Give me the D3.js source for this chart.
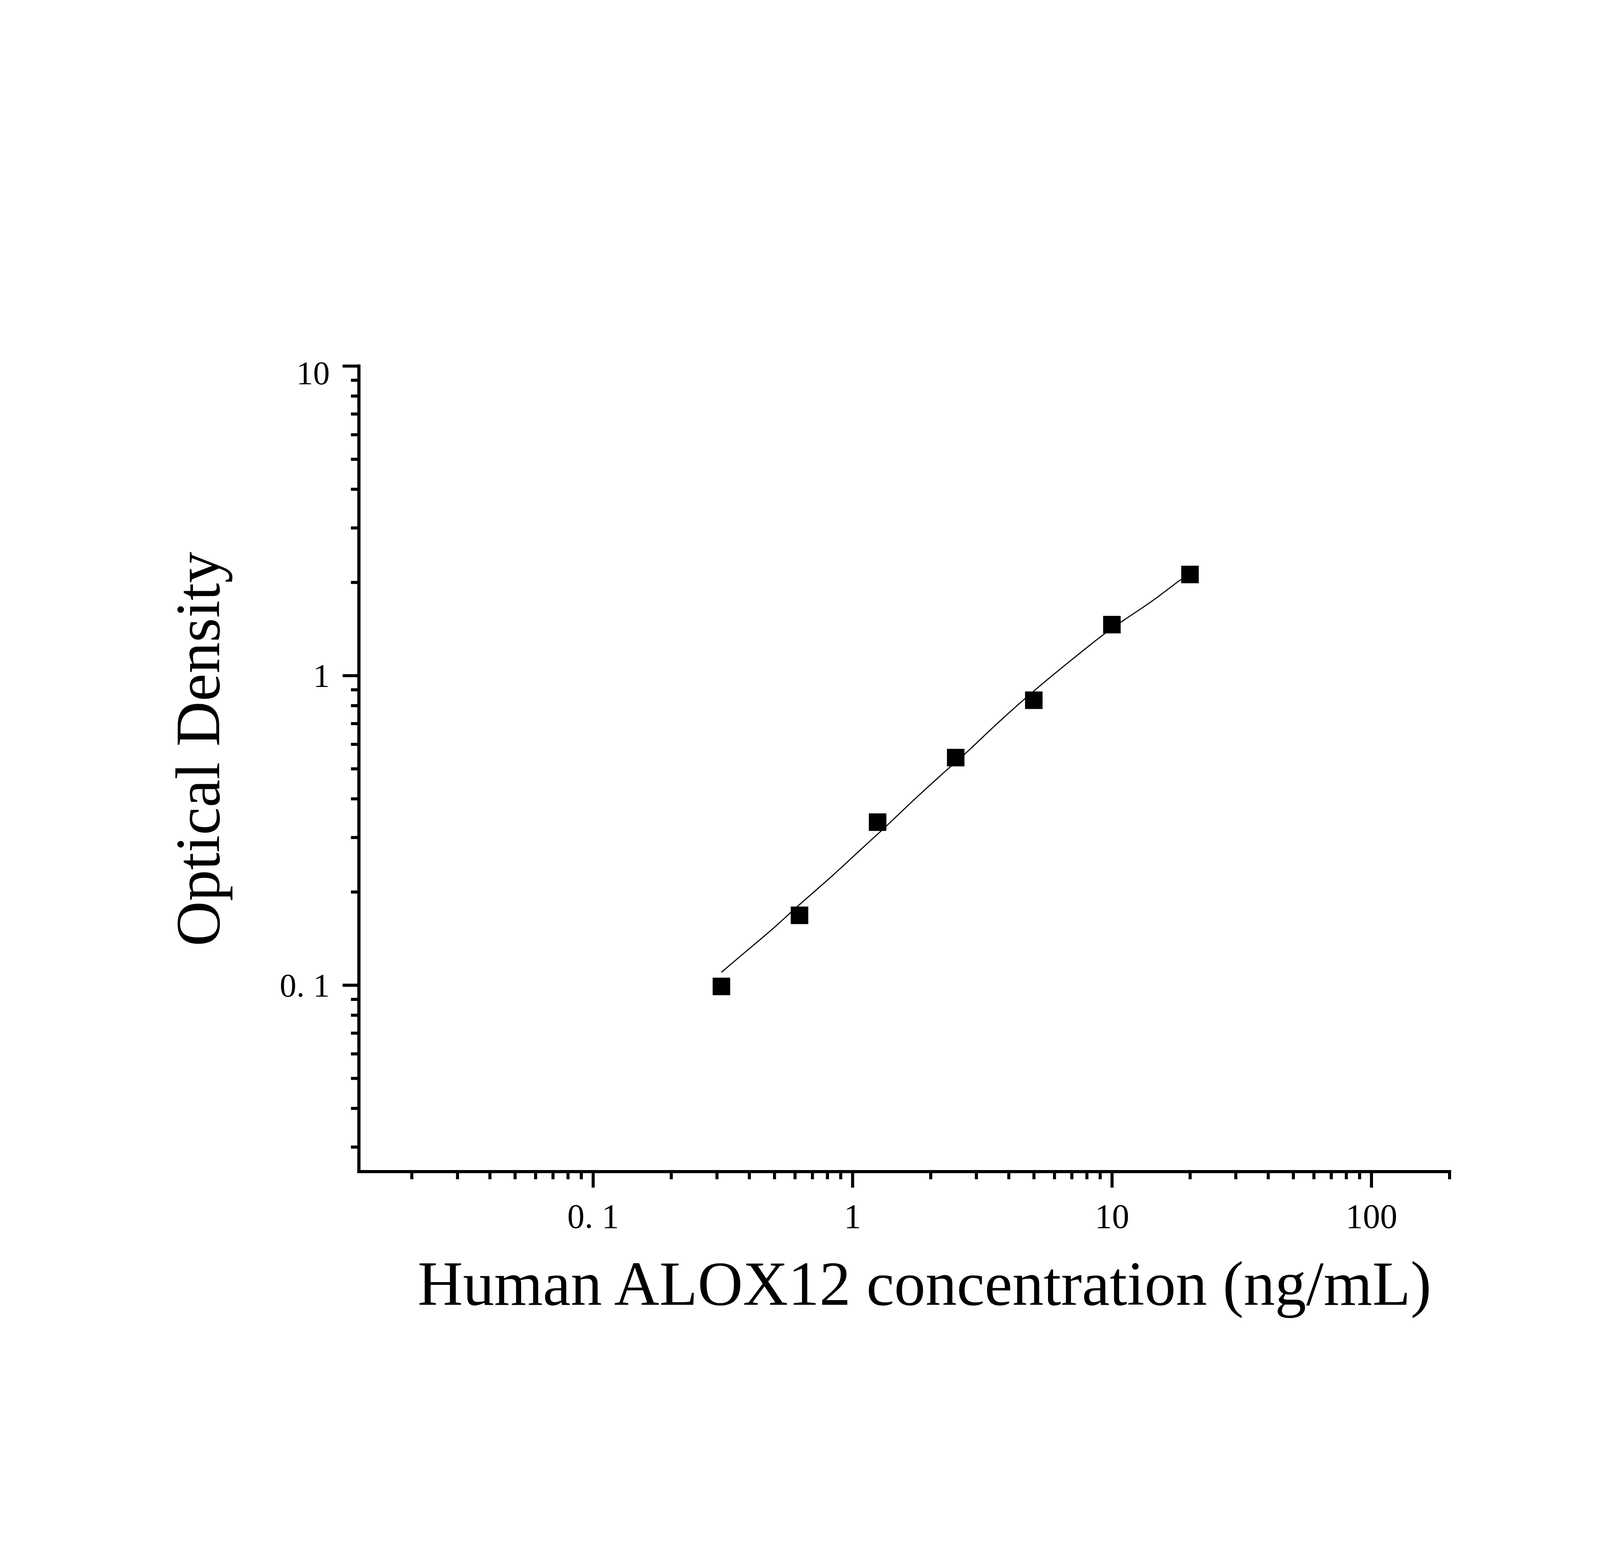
<html>
<head>
<meta charset="utf-8" />
<title>ALOX12 standard curve</title>
<script src="https://d3js.org/d3.v7.min.js"></script>
<style>
  html, body { margin: 0; padding: 0; width: 100%; height: 100%; overflow: hidden; background: #fff; }
  svg { display: block; }
  text { font-family: "Liberation Serif", "Times New Roman", serif; fill: #000; }
</style>
</head>
<body>
<svg id="chart" viewBox="0 0 5749 4015" preserveAspectRatio="xMidYMid meet" style="width:100vw;height:100vh"></svg>
<script>
// standards (ng/mL) and measured OD
var concentration = [0.3125, 0.625, 1.25, 2.5, 5, 10, 20];
var opticalDensity = [0.099, 0.168, 0.336, 0.543, 0.832, 1.46, 2.12];

// fitted curve, points
var fitConcentration = [0.3125, 0.3915, 0.4987, 0.6216, 0.8339, 1.108, 1.314, 1.673, 2.164, 2.424,
                        2.811, 3.528, 4.975, 6.893, 9.434, 11.05, 14.68, 18.43, 20];
var fitDensity = [0.110, 0.1292, 0.1528, 0.1818, 0.2241, 0.2808, 0.3186, 0.3878, 0.4719, 0.5137,
                  0.572, 0.6891, 0.8906, 1.1135, 1.375, 1.506, 1.759, 2.05, 2.12];

var xTickValues = [0.1, 1, 10, 100];
var xTickLabels = ["0. 1", "1", "10", "100"];
var yTickValues = [0.1, 1, 10];
var yTickLabels = ["0. 1", "1", "10"];

var xMinor = [];
[0.01, 0.1, 1, 10].forEach(function(d) {
  for (var k = 2; k <= 9; k++) xMinor.push(+(d * k).toPrecision(3));
});
xMinor.push(200);
var yMinor = [];
for (var k = 3; k <= 9; k++) yMinor.push(+(0.01 * k).toPrecision(3));
[0.1, 1].forEach(function(d) {
  for (var k = 2; k <= 9; k++) yMinor.push(+(d * k).toPrecision(3));
});

// plot box (window.top is read-only, so avoid that name)
var plotLeft = 1289, plotRight = 5208, plotTop = 505, plotBottom = 3400;

var x = d3.scaleLog().domain([0.0125, 200]).range([plotLeft, plotRight]);
var y = d3.scaleLog().domain([0.025, 10]).range([plotBottom, plotTop]);

var svg = d3.select("#chart");
svg.append("rect").attr("width", 5749).attr("height", 4015).attr("fill", "#fff");

// x axis
var gx = svg.append("g").attr("transform", "translate(0," + plotBottom + ")");
gx.call(d3.axisBottom(x).tickValues(xMinor).tickSize(28).tickSizeOuter(0).tickFormat(""));
gx.append("g").call(d3.axisBottom(x).tickValues(xTickValues).tickSize(58).tickSizeOuter(0)
  .tickFormat(function(d, i) { return xTickLabels[i]; }));

// y axis
var gy = svg.append("g").attr("transform", "translate(" + plotLeft + ",0)");
gy.call(d3.axisLeft(y).tickValues(yMinor).tickSize(28).tickSizeOuter(0).tickFormat(""));
gy.append("g").call(d3.axisLeft(y).tickValues(yTickValues).tickSize(58).tickSizeOuter(0)
  .tickFormat(function(d, i) { return yTickLabels[i]; }));

svg.selectAll(".domain").attr("stroke", "#000").attr("stroke-width", 11).attr("stroke-linecap", "square");
svg.selectAll(".tick line").attr("stroke", "#000").attr("stroke-width", 11);

gx.selectAll(".tick text")
  .attr("font-size", 124)
  .attr("dy", null)
  .attr("y", 202)
  .attr("font-family", "Liberation Serif");
gy.selectAll(".tick text")
  .attr("font-size", 120)
  .attr("x", -104)
  .attr("dy", function(d) { return d === 10 ? "0.55em" : "0.34em"; })
  .attr("font-family", "Liberation Serif");

// fitted curve
var line = d3.line()
  .x(function(d) { return x(d[0]); })
  .y(function(d) { return y(d[1]); })
  .curve(d3.curveBasis);
svg.append("path")
  .datum(d3.zip(fitConcentration, fitDensity))
  .attr("d", line)
  .attr("fill", "none")
  .attr("stroke", "#000")
  .attr("stroke-width", 4);

// markers
var size = 63;
svg.selectAll("rect.pt")
  .data(d3.zip(concentration, opticalDensity))
  .enter()
  .append("rect")
  .attr("class", "pt")
  .attr("x", function(d) { return x(d[0]) - size / 2; })
  .attr("y", function(d) { return y(d[1]) - size / 2; })
  .attr("width", size)
  .attr("height", size)
  .attr("fill", "#000");

// axis titles
svg.append("text")
  .attr("x", 3322)
  .attr("y", 3879)
  .attr("text-anchor", "middle")
  .attr("font-size", 225)
  .text("Human ALOX12 concentration (ng/mL)");

svg.append("text")
  .attr("transform", "translate(788,1882) rotate(-90)")
  .attr("text-anchor", "middle")
  .attr("font-size", 225)
  .text("Optical Density");
</script>
</body>
</html>
